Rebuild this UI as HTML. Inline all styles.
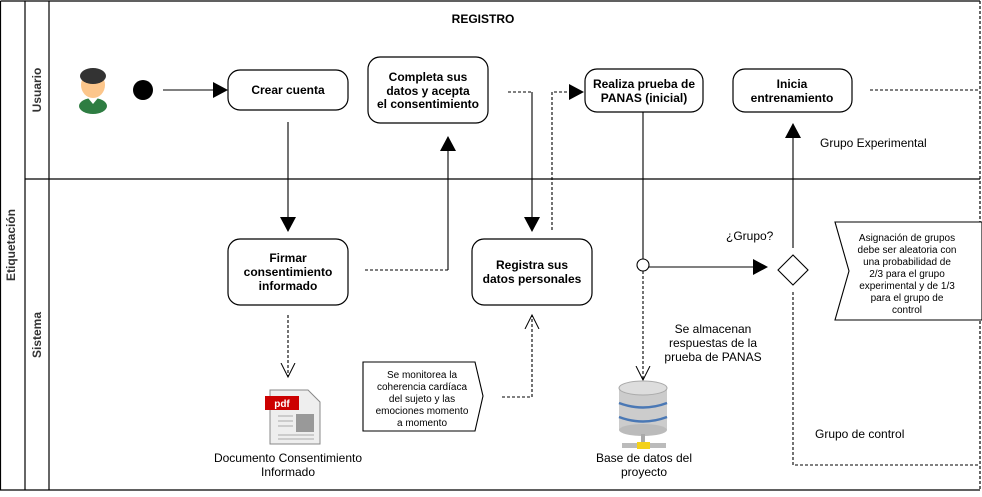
<!DOCTYPE html>
<html><head><meta charset="utf-8"><style>
body{margin:0;background:#fff;}
svg text{font-family:"Liberation Sans",Arial,sans-serif;}
</style></head><body>
<svg width="982" height="492" viewBox="0 0 982 492" xmlns="http://www.w3.org/2000/svg">
<defs>
<marker id="b" markerWidth="16" markerHeight="16" refX="14" refY="8" orient="auto" markerUnits="userSpaceOnUse"><path d="M0,0 L15,8 L0,16 z" fill="#000"/></marker>
<marker id="o" markerWidth="16" markerHeight="16" refX="14" refY="8" orient="auto" markerUnits="userSpaceOnUse"><path d="M0,1 L14,8 L0,15" fill="none" stroke="#000"/></marker>
</defs>
<g stroke="#000" stroke-width="1.2" fill="none">
<line x1="0.5" y1="1" x2="980" y2="1"/>
<line x1="0.5" y1="1" x2="0.5" y2="490"/>
<line x1="0" y1="490" x2="980" y2="490"/>
<line x1="25" y1="1" x2="25" y2="490"/>
<line x1="49" y1="1" x2="49" y2="490"/>
<line x1="25" y1="179" x2="980" y2="179"/>
<line x1="980" y1="1" x2="980" y2="490" stroke-dasharray="3,2"/>
</g>
<text x="15" y="245" font-size="12" font-weight="bold" fill="#333" text-anchor="middle" transform="rotate(-90 15 245)">Etiquetación</text>
<text x="41" y="90" font-size="12" font-weight="bold" fill="#333" text-anchor="middle" transform="rotate(-90 41 90)">Usuario</text>
<text x="41" y="335" font-size="12" font-weight="bold" fill="#333" text-anchor="middle" transform="rotate(-90 41 335)">Sistema</text>
<text x="483" y="23" font-size="12" font-weight="bold" text-anchor="middle">REGISTRO</text>
<ellipse cx="93" cy="106" rx="14" ry="8" fill="#2e7d42"/>
<path d="M88,98 L93,104 L98,98 z" fill="#fff"/>
<ellipse cx="93" cy="85" rx="12" ry="13" fill="#fcc68b"/>
<ellipse cx="93" cy="76" rx="13" ry="8" fill="#333"/>
<circle cx="143" cy="90" r="10" fill="#000"/>
<g stroke="#000" stroke-width="1.2" fill="#fff">
<rect x="228" y="70" width="120" height="40" rx="12"/>
<rect x="368" y="57" width="120" height="66" rx="12"/>
<rect x="585" y="69" width="118" height="43" rx="12"/>
<rect x="733" y="69" width="119" height="43" rx="12"/>
<rect x="228" y="239" width="120" height="66" rx="12"/>
<rect x="472" y="239" width="120" height="66" rx="12"/>
</g>
<g font-size="12" font-weight="bold" text-anchor="middle">
<text x="288" y="94">Crear cuenta</text>
<text x="428" y="81">Completa sus</text><text x="428" y="95">datos y acepta</text><text x="428" y="108">el consentimiento</text>
<text x="644" y="88">Realiza prueba de</text><text x="644" y="102">PANAS (inicial)</text>
<text x="792" y="88">Inicia</text><text x="792" y="102">entrenamiento</text>
<text x="288" y="262">Firmar</text><text x="288" y="276">consentimiento</text><text x="288" y="290">informado</text>
<text x="532" y="269">Registra sus</text><text x="532" y="283">datos personales</text>
</g>
<g stroke="#000" stroke-width="1.1" fill="none">
<line x1="163" y1="90" x2="227" y2="90" marker-end="url(#b)"/>
<line x1="288" y1="122" x2="288" y2="231" marker-end="url(#b)"/>
<line x1="365" y1="270" x2="448" y2="270" stroke-dasharray="3,2"/>
<line x1="448" y1="270" x2="448" y2="137" marker-end="url(#b)"/>
<line x1="508" y1="92" x2="532" y2="92" stroke-dasharray="3,2"/>
<line x1="532" y1="92" x2="532" y2="231" marker-end="url(#b)"/>
<polyline points="552,230 552,92 583,92" stroke-dasharray="3,2" marker-end="url(#b)"/>
<line x1="643" y1="112" x2="643" y2="259"/>
<circle cx="643" cy="265" r="6" fill="#fff"/>
<line x1="643" y1="271" x2="643" y2="380" stroke-dasharray="3,2" marker-end="url(#o)"/>
<line x1="649" y1="267" x2="767" y2="267" marker-end="url(#b)"/>
<path d="M778,270 L793,255 L808,270 L793,285 z" fill="#fff"/>
<line x1="793" y1="248" x2="793" y2="124" marker-end="url(#b)"/>
<polyline points="793,292 793,465 980,465" stroke-dasharray="3,2"/>
<line x1="870" y1="90" x2="980" y2="90" stroke-dasharray="3,2"/>
<line x1="288" y1="315" x2="288" y2="377" stroke-dasharray="3,2" marker-end="url(#o)"/>
<polyline points="502,397 532,397 532,315" stroke-dasharray="3,2" marker-end="url(#o)"/>
<path d="M363,362 L475,362 L483,396 L475,431 L363,431 z" fill="#fff"/>
<path d="M835,222 L982,222 L982,320 L835,320 L849,271 z" fill="#fff"/>
</g>
<g font-size="10" text-anchor="middle">
<text x="422" y="378">Se monitorea la</text><text x="422" y="390">coherencia cardíaca</text><text x="422" y="402">del sujeto y las</text><text x="422" y="414">emociones momento</text><text x="422" y="426">a momento</text>
<text x="907" y="241">Asignación de grupos</text><text x="907" y="253">debe ser aleatoria con</text><text x="907" y="265">una probabilidad de</text><text x="907" y="277">2/3 para el grupo</text><text x="907" y="289">experimental y de 1/3</text><text x="907" y="301">para el grupo de</text><text x="907" y="313">control</text>
</g>
<g font-size="12">
<text x="820" y="147">Grupo Experimental</text>
<text x="726" y="240">¿Grupo?</text>
<text x="815" y="438">Grupo de control</text>
<text x="713" y="333" text-anchor="middle">Se almacenan</text><text x="713" y="347" text-anchor="middle">respuestas de la</text><text x="713" y="361" text-anchor="middle">prueba de PANAS</text>
<text x="288" y="462" text-anchor="middle">Documento Consentimiento</text><text x="288" y="476" text-anchor="middle">Informado</text>
<text x="644" y="462" text-anchor="middle">Base de datos del</text><text x="644" y="476" text-anchor="middle">proyecto</text>
</g>
<path d="M270,390 L308,390 L320,402 L320,444 L270,444 z" fill="#eee" stroke="#888"/>
<rect x="265" y="396" width="34" height="14" fill="#c00"/>
<text x="282" y="407" font-size="10" font-weight="bold" fill="#fff" text-anchor="middle">pdf</text>
<rect x="296" y="414" width="18" height="18" fill="#999"/>
<g stroke="#aaa"><line x1="278" y1="416" x2="293" y2="416"/><line x1="278" y1="421" x2="293" y2="421"/><line x1="278" y1="426" x2="293" y2="426"/><line x1="278" y1="435" x2="314" y2="435"/><line x1="278" y1="439" x2="314" y2="439"/></g>
<rect x="619" y="388" width="48" height="42" fill="#ccc"/>
<ellipse cx="643" cy="388" rx="24" ry="7" fill="#ddd" stroke="#aaa"/>
<ellipse cx="643" cy="430" rx="24" ry="6" fill="#bbb"/>
<path d="M619,403 Q643,412 667,403" stroke="#4a78b5" stroke-width="2.5" fill="none"/>
<path d="M619,417 Q643,426 667,417" stroke="#4a78b5" stroke-width="2.5" fill="none"/>
<rect x="641" y="434" width="4" height="10" fill="#aaa"/>
<rect x="622" y="443" width="44" height="5" fill="#bbb"/>
<rect x="637" y="442" width="13" height="7" fill="#f3d11a"/>
</svg>
</body></html>
